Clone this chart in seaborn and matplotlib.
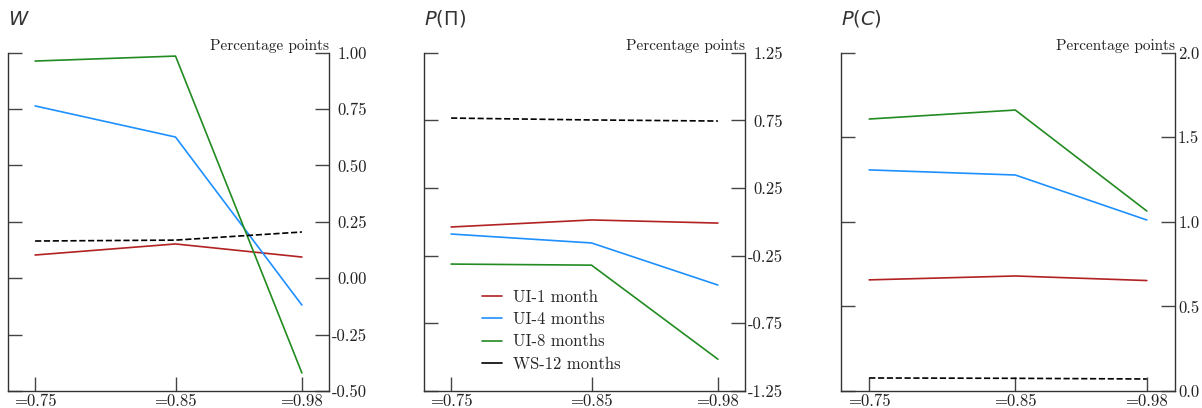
import numpy as np
import pandas as pd
import matplotlib
matplotlib.use("Agg")
import matplotlib.pyplot as plt
import seaborn as sns
from matplotlib.lines import Line2D

# ---------------- data ----------------
beta_labels = ["=0.75", "=0.85", "=0.98"]
x_pos = [0.0, 1.0, 1.9]

series_names = ["UI-1 month", "UI-4 months", "UI-8 months", "WS-12 months"]

w_ui1 = [0.103, 0.152, 0.094]
w_ui4 = [0.764, 0.626, -0.119]
w_ui8 = [0.963, 0.985, -0.420]
w_ws12 = [0.165, 0.169, 0.205]

ppi_ui1 = [-0.038, 0.014, -0.009]
ppi_ui4 = [-0.090, -0.156, -0.467]
ppi_ui8 = [-0.312, -0.320, -1.015]
ppi_ws12 = [0.767, 0.753, 0.745]

pc_ui1 = [0.657, 0.680, 0.653]
pc_ui4 = [1.307, 1.277, 1.011]
pc_ui8 = [1.608, 1.661, 1.064]
pc_ws12 = [0.077, 0.075, 0.071]

titles = [r"$W$", r"$P(\Pi)$", r"$P(C)$"]

yticks_w = [-0.5, -0.25, 0.0, 0.25, 0.5, 0.75, 1.0]
yticklabels_w = ["-0.50", "-0.25", "0.00", "0.25", "0.50", "0.75", "1.00"]
yticks_ppi = [-1.25, -0.75, -0.25, 0.25, 0.75, 1.25]
yticklabels_ppi = ["-1.25", "-0.75", "-0.25", "0.25", "0.75", "1.25"]
yticks_pc = [0.0, 0.5, 1.0, 1.5, 2.0]
yticklabels_pc = ["0.0", "0.5", "1.0", "1.5", "2.0"]

# ---------------- style ----------------
sns.set_theme(style="white")
plt.rcParams["font.family"] = ["cmr10", "DejaVu Serif"]
plt.rcParams["axes.unicode_minus"] = False
plt.rcParams["mathtext.fontset"] = "dejavusans"

colors = ["#b22222", "#1e90ff", "#228b22", "black"]
styles = ["-", "-", "-", "--"]

panels = [
    (titles[0], [w_ui1, w_ui4, w_ui8, w_ws12], yticks_w, yticklabels_w),
    (titles[1], [ppi_ui1, ppi_ui4, ppi_ui8, ppi_ws12], yticks_ppi, yticklabels_ppi),
    (titles[2], [pc_ui1, pc_ui4, pc_ui8, pc_ws12], yticks_pc, yticklabels_pc),
]

W, H = 1202, 408
fig = plt.figure(figsize=(W / 100, H / 100), dpi=100)
fig.patch.set_facecolor("white")

# axes boxes in pixels: left, right
boxes = [(8, 329), (424, 745), (841, 1175)]
top_px, bot_px = 52.7, 391

axes = []
for (l, r), (title, series, yt, ytl) in zip(boxes, panels):
    ax = fig.add_axes([l / W, 1 - bot_px / H, (r - l) / W, (bot_px - top_px) / H])
    ax.set_facecolor("white")
    for vals, name, c, ls in zip(series, series_names, colors, styles):
        df = pd.DataFrame({"x": x_pos, "y": vals})
        sns.lineplot(data=df, x="x", y="y", ax=ax, color=c, linestyle=ls,
                     linewidth=1.2, legend=False)
    ax.set_xlim(x_pos[0] - 0.193, x_pos[-1] + 0.193)
    ax.set_ylim(yt[0], yt[-1])
    ax.set_xticks(x_pos)
    ax.set_xticklabels(beta_labels)
    ax.set_yticks(yt)
    ax.set_yticklabels(ytl)
    ax.set_xlabel("")
    ax.set_ylabel("")
    ax.grid(False)
    ax.spines["top"].set_visible(False)
    for s in ["left", "right", "bottom"]:
        ax.spines[s].set_visible(True)
        ax.spines[s].set_color("#333333")
        ax.spines[s].set_linewidth(1.0)
    ax.tick_params(axis="y", left=True, right=True, labelleft=False, labelright=True,
                   direction="in", length=10, width=1.0, color="#444444",
                   labelsize=12, labelcolor="#222222")
    ax.tick_params(axis="x", bottom=True, top=False, direction="in", length=10,
                   width=1.0, color="#444444", labelsize=12, pad=2,
                   labelcolor="#222222")
    for t in ax.yaxis.get_major_ticks():
        t.label2.set_horizontalalignment("right")
    ax.set_title(title, loc="left", fontsize=14, pad=20, color="#333333")
    ax.text(1.0, 1.0, "Percentage points", transform=ax.transAxes, ha="right",
            va="bottom", fontsize=11, color="#222222")
    axes.append(ax)

# right-aligned right tick labels: pad = widest label
fig.canvas.draw()
rend = fig.canvas.get_renderer()
for ax in axes:
    wmax = max(t.label2.get_window_extent(rend).width for t in ax.yaxis.get_major_ticks())
    ax.tick_params(axis="y", pad=(wmax + 3) * 72 / 100)

handles = [Line2D([0], [0], color=c, lw=1.2) for c in colors]
axes[1].legend(handles, series_names, loc="upper left", bbox_to_anchor=(0.18, 0.30),
               frameon=False, borderaxespad=0, borderpad=0, handlelength=1.2,
               handletextpad=0.7, labelspacing=0.42, fontsize=12)

fig.savefig("out.png", dpi=100, facecolor="white")
